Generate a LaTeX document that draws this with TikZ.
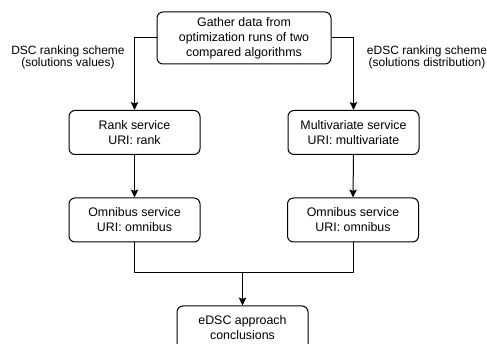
\documentclass[tikz,border=0pt]{standalone}
\usepackage{fontspec}
\setmainfont{Liberation Sans}
\usetikzlibrary{arrows.meta}
\begin{document}
\begin{tikzpicture}[x=1pt,y=-1pt,
  box/.style={draw, line width=1pt, rounded corners=6pt, align=center, inner sep=0pt,
    font=\fontsize{12.4}{15}\selectfont},
  lbl/.style={align=center, inner sep=0pt, font=\fontsize{12}{11.5}\selectfont},
  conn/.style={line width=1pt},
  arr/.style={conn, -{Stealth[length=8pt,width=7.5pt,inset=1.5pt]}}]
\useasboundingbox (0,0) rectangle (487,344);
\node[box, minimum width=174pt, minimum height=52pt] (top) at (244,38) {Gather data from\\optimization runs of two\\compared algorithms};
\node[box, minimum width=131pt, minimum height=44pt] (rank) at (134.5,132.5) {Rank service\\URI: rank};
\node[box, minimum width=131pt, minimum height=44pt] (multi) at (353.5,132.5) {Multivariate service\\URI: multivariate};
\node[box, minimum width=131pt, minimum height=44pt] (omL) at (134.5,220) {Omnibus service\\URI: omnibus};
\node[box, minimum width=131pt, minimum height=44pt] (omR) at (353,220) {Omnibus service\\URI: omnibus};
\node[box, minimum width=131pt, minimum height=44pt] (fin) at (242.5,328) {eDSC approach\\conclusions};
\node[lbl] (lblL) at (68,57.5) {DSC ranking scheme\\(solutions values)};
\node[lbl] (lblR) at (427,57.5) {eDSC ranking scheme\\(solutions distribution)};
\coordinate (j) at (242.5,273);
\draw[arr] (top.west) -| (rank.north);
\draw[arr] (top.east) -| (multi.north);
\draw[arr] (rank.south) -- (omL.north);
\draw[arr] (multi.south) -- (omR.north);
\draw[conn] (omL.south) |- (j);
\draw[conn] (omR.south) |- (j);
\draw[arr] (j) -- (fin.north);
\end{tikzpicture}
\end{document}
